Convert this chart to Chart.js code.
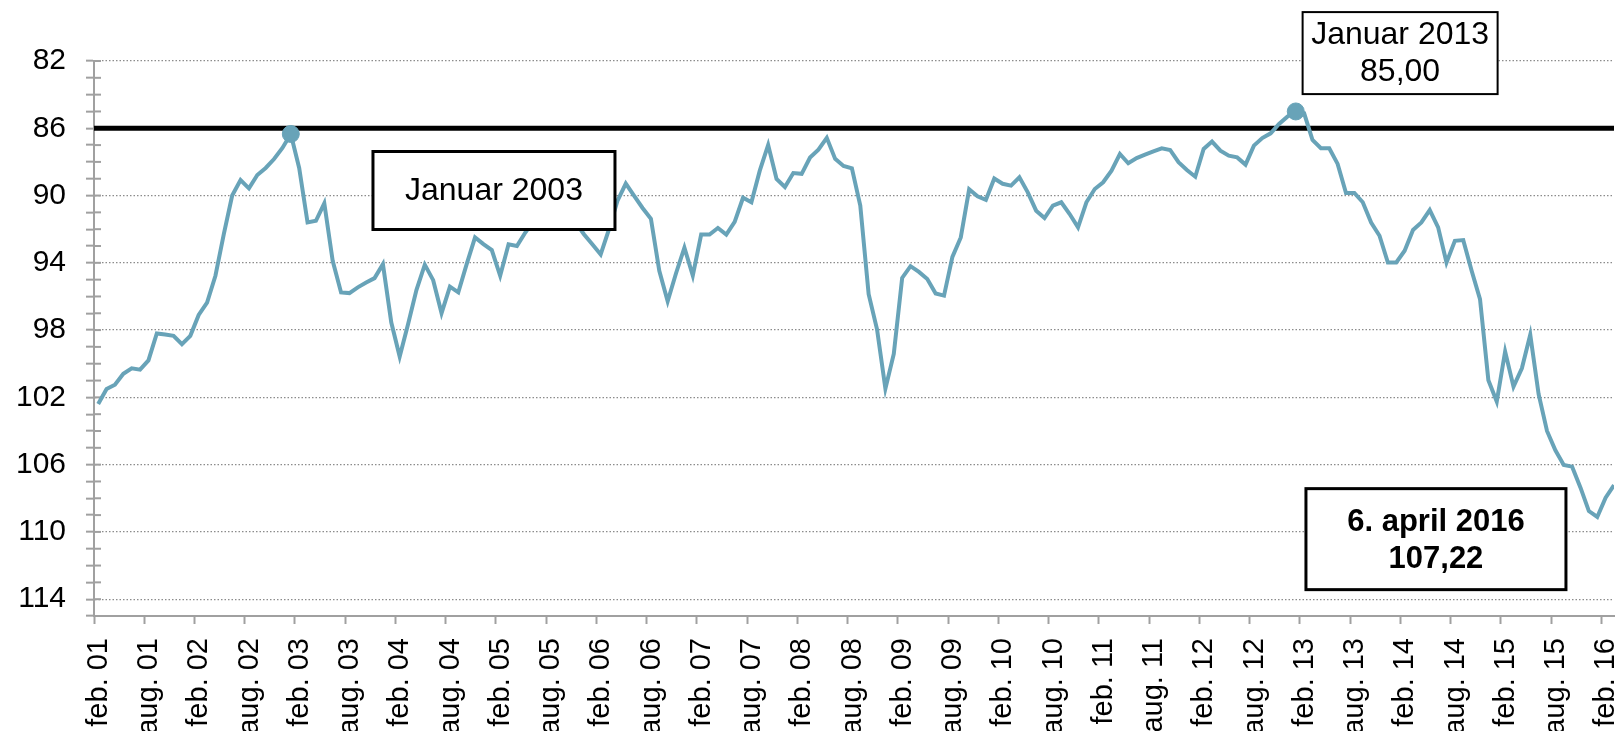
<!DOCTYPE html>
<html>
<head>
<meta charset="utf-8">
<script src="https://cdn.jsdelivr.net/npm/chart.js@4.4.1/dist/chart.umd.min.js"></script>
<style>
html,body{margin:0;padding:0;background:#fff;overflow:hidden}
#wrap{position:relative;width:1619px;height:731px}
</style>
</head>
<body>
<div id="wrap"><canvas id="c"></canvas></div>
<script>
// ---- data ----
const tickLabels = ["feb. 01","aug. 01","feb. 02","aug. 02","feb. 03","aug. 03","feb. 04","aug. 04",
  "feb. 05","aug. 05","feb. 06","aug. 06","feb. 07","aug. 07","feb. 08","aug. 08","feb. 09","aug. 09",
  "feb. 10","aug. 10","feb. 11","aug. 11","feb. 12","aug. 12","feb. 13","aug. 13","feb. 14","aug. 14",
  "feb. 15","aug. 15","feb. 16"];

// monthly values, feb 2001 -> 6 april 2016
const values = [
  102.4,101.5,101.25,100.6,100.27,100.35,99.8,98.2,98.26,98.34,98.84,98.34,
  97.1,96.36,94.77,92.29,90.0,89.08,89.57,88.78,88.36,87.83,87.17,86.34,
  88.36,91.6,91.5,90.46,93.88,95.76,95.8,95.46,95.17,94.91,94.08,97.55,
  99.57,97.65,95.62,94.11,95.03,96.99,95.42,95.76,94.08,92.49,92.89,93.24,
  94.77,92.9,93.0,92.2,91.5,91.0,90.6,90.8,91.0,91.6,92.3,92.9,
  93.5,92.0,90.32,89.29,90.02,90.74,91.38,94.48,96.29,94.62,93.1,94.76,
  92.32,92.32,91.93,92.32,91.57,90.13,90.4,88.52,86.99,89.02,89.49,88.66,
  88.71,87.74,87.27,86.57,87.82,88.24,88.38,90.6,95.87,97.95,101.48,99.42,
  94.9,94.2,94.54,94.96,95.82,95.95,93.65,92.49,89.63,90.04,90.26,88.99,
  89.3,89.41,88.92,89.81,90.9,91.34,90.6,90.4,91.1,91.89,90.4,89.61,
  89.21,88.52,87.53,88.08,87.77,87.57,87.37,87.19,87.29,88.02,88.48,88.88,
  87.23,86.79,87.33,87.63,87.73,88.16,87.03,86.58,86.3,85.74,85.31,85.0,
  85.11,86.7,87.19,87.19,88.12,89.85,89.85,90.4,91.6,92.39,93.98,93.98,
  93.28,92.05,91.6,90.86,91.89,93.98,92.69,92.65,94.47,96.16,100.98,102.25,
  99.27,101.36,100.27,98.28,101.81,104.0,105.15,106.02,106.12,107.37,108.76,109.11,
  107.96,107.22
];
const refLevel = 86;
const highlightIndex = [23, 143];   // Januar 2003, Januar 2013
const yMin = 82, yMax = 115, yMajorStep = 4;

const annotations = [
  {lines:["Januar 2003"], x:47.76, y:89.70, bold:false},
  {lines:["Januar 2013","85,00"], x:155.96, y:81.53, bold:false},
  {lines:["6. april 2016","107,22"], x:160.24, y:110.43, bold:true}
];
// ---- styles ----
const boxStyles = [
  {w:242, h:78, border:3, size:32, offsets:[1]},
  {w:195, h:82, border:2, size:32, offsets:[-17.5,19.5]},
  {w:260, h:101, border:3, size:31, offsets:[-16.5,20.5]}
];
const FONT = "'Liberation Sans', Arial, Helvetica, sans-serif";
const LINE = '#68a3b8';
const AXIS = '#a0a0a0';

const innerTicks = {
  id:'innerTicks',
  beforeDatasetsDraw(chart){
    const ys = chart.scales.y, ctx = chart.ctx, ca = chart.chartArea;
    ctx.save();
    ctx.strokeStyle = AXIS; ctx.lineWidth = 2;
    ys.ticks.forEach((t,i)=>{
      const py = ys.getPixelForTick(i);
      ctx.beginPath(); ctx.moveTo(ca.left, py); ctx.lineTo(ca.left+7, py); ctx.stroke();
    });
    ctx.restore();
  }
};

const boxes = {
  id:'boxes',
  afterDatasetsDraw(chart){
    const xs = chart.scales.x, ys = chart.scales.y, ctx = chart.ctx;
    annotations.forEach((a,k)=>{
      const st = boxStyles[k];
      const cx = xs.getPixelForValue(a.x), cy = ys.getPixelForValue(a.y);
      ctx.save();
      ctx.fillStyle = '#fff';
      ctx.fillRect(cx-st.w/2, cy-st.h/2, st.w, st.h);
      ctx.strokeStyle = '#000'; ctx.lineWidth = st.border;
      ctx.strokeRect(cx-st.w/2, cy-st.h/2, st.w, st.h);
      ctx.fillStyle = '#000';
      ctx.textAlign = 'center'; ctx.textBaseline = 'middle';
      ctx.font = (a.bold?'bold ':'') + st.size + 'px ' + FONT;
      a.lines.forEach((ln,j)=> ctx.fillText(ln, cx, cy + st.offsets[j]));
      ctx.restore();
    });
  }
};

const isMajor = v => (v - yMin) % yMajorStep === 0 && v < yMax;

new Chart(document.getElementById('c'), {
  type:'line',
  data:{
    datasets:[
      {
        label:'Kurs',
        data: values.map((v,i)=>({x:i+0.5, y:v})),
        borderColor: LINE, backgroundColor: LINE,
        borderWidth: 4, tension: 0,
        pointRadius: c => highlightIndex.includes(c.dataIndex) ? 8.5 : 0,
        pointBackgroundColor: LINE, pointBorderColor: LINE, pointBorderWidth: 1,
        order: 0
      },
      {
        label:'ref',
        data:[{x:0, y:refLevel},{x:values.length - 0.5, y:refLevel}],
        borderColor:'#000', borderWidth:5, pointRadius:0, order:1
      }
    ]
  },
  options:{
    responsive:true, maintainAspectRatio:false, animation:false,
    layout:{padding:{top:61, right:5, left:0, bottom:0}},
    plugins:{legend:{display:false}, tooltip:{enabled:false}},
    scales:{
      x:{
        type:'linear', min:0, max:values.length - 0.5,
        afterFit: s => { s.height = 115; s.paddingLeft = 0; s.paddingRight = 0; },
        ticks:{
          stepSize:6, includeBounds:false, autoSkip:false,
          minRotation:90, maxRotation:90, padding:14, labelOffset:5,
          color:'#000', font:{family:FONT, size:29},
          callback: v => (v % 6 === 0 && tickLabels[v/6] !== undefined) ? tickLabels[v/6] : null
        },
        grid:{drawOnChartArea:false, tickLength:8, tickColor:AXIS, tickWidth:2},
        border:{color:AXIS, width:2}
      },
      y:{
        type:'linear', reverse:true, min:yMin, max:yMax,
        afterFit: s => { s.width = 94; s.paddingTop = 0; s.paddingBottom = 0; },
        ticks:{
          stepSize:1, autoSkip:false, padding:20,
          color:'#000', font:{family:FONT, size:30},
          callback: v => isMajor(v) ? String(v) : ''
        },
        grid:{
          color: c => (c.tick && isMajor(c.tick.value)) ? '#8c8c8c' : 'rgba(0,0,0,0)',
          lineWidth:1.3, tickLength:8, tickColor:AXIS, tickWidth:2
        },
        border:{color:AXIS, width:2, dash:[1.5,2]}
      }
    }
  },
  plugins:[innerTicks, boxes]
});
</script>
</body>
</html>
